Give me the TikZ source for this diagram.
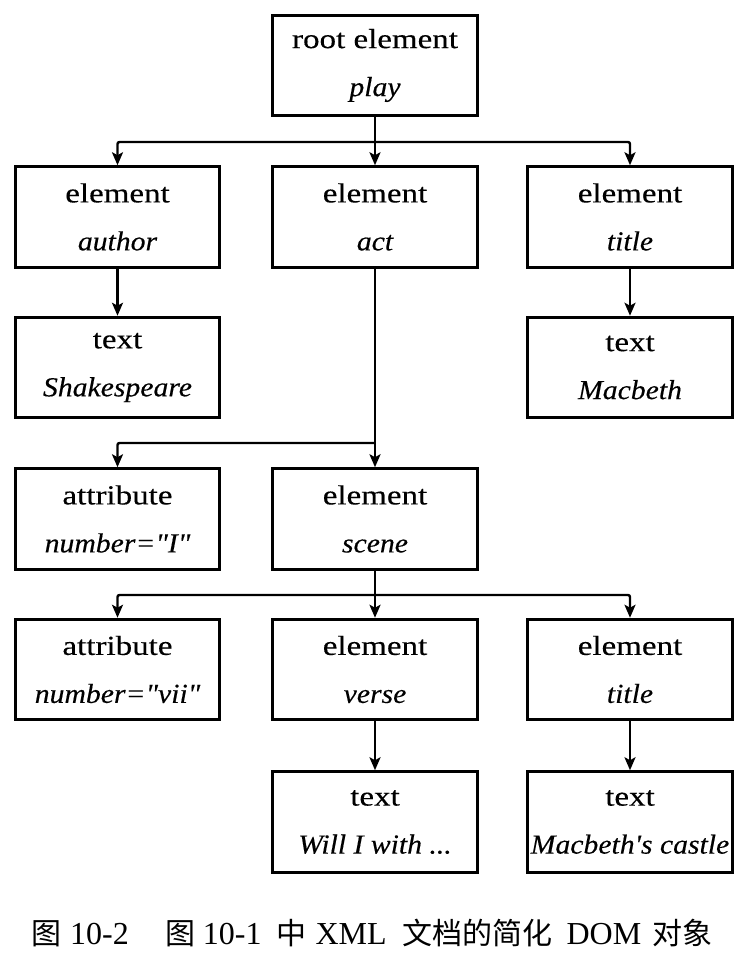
\documentclass[tikz,border=0pt]{standalone}
\usepackage{fontspec}
\setmainfont{Liberation Serif}
\newfontfamily\upfont{Liberation Serif}[FakeStretch=1.2,FakeBold=0.3]
\newfontfamily\itfont{Liberation Serif Italic}[FakeStretch=1.08,FakeBold=0.3]
\newfontfamily\cjk{Noto Sans CJK SC}
\usetikzlibrary{arrows.meta}
\newcommand{\nm}[1]{{\itfont #1}}
\newcommand{\zh}[1]{{\cjk\fontsize{30}{30}\selectfont #1}}
\tikzset{
  box/.style={draw, line width=3pt, minimum width=204.5pt, minimum height=100.5pt,
    inner sep=0pt, align=center, font=\upfont\fontsize{27.5}{48}\selectfont},
  conn/.style={line width=2.4pt, rounded corners=2pt,
    -{Stealth[length=13pt,width=11pt,inset=3pt]}},
  capt/.style={inner sep=0pt, anchor=base west, font=\fontsize{32}{32}\selectfont}
}
\begin{document}
\begin{tikzpicture}[x=1pt,y=-1pt]
\useasboundingbox (0,0) rectangle (751,956);
% rows
\node[box] (root)  at (375,65.5) {root element\\\nm{play}};
\node[box] (author) at (117.5,217) {element\\\nm{author}};
\node[box] (act)    at (375,217) {element\\\nm{act}};
\node[box] (title1) at (630,217) {element\\\nm{title}};
\node[box] (shake)  at (117.5,367.5) {text\\\nm{Shakespeare}};
\node[box] (macb)   at (630,367.5) {text\\\nm{Macbeth}};
\node[box] (attr1)  at (117.5,519) {attribute\\\nm{number="I"}};
\node[box] (scene)  at (375,519) {element\\\nm{scene}};
\node[box] (attr2)  at (117.5,669.5) {attribute\\\nm{number="vii"}};
\node[box] (verse)  at (375,669.5) {element\\\nm{verse}};
\node[box] (title2) at (630,669.5) {element\\\nm{title}};
\node[box] (will)   at (375,822) {text\\\nm{Will I with ...}};
\node[box] (castle) at (630,822) {text\\\nm{Macbeth's castle}};
% bus coordinates
\coordinate (bus1) at (375,142);
\coordinate (bus2) at (375,443);
\coordinate (bus3) at (375,595);
% connectors
\draw[conn] (root.south) -- (act.north);
\draw[conn] (bus1) -| (author.north);
\draw[conn] (bus1) -| (title1.north);
\draw[conn] (author.south) -- (shake.north);
\draw[conn] (title1.south) -- (macb.north);
\draw[conn] (act.south) -- (scene.north);
\draw[conn] (bus2) -| (attr1.north);
\draw[conn] (scene.south) -- (verse.north);
\draw[conn] (bus3) -| (attr2.north);
\draw[conn] (bus3) -| (title2.north);
\draw[conn] (verse.south) -- (will.north);
\draw[conn] (title2.south) -- (castle.north);
% caption
\node[capt] (cap) at (31,944) {\zh{图}\hspace{9pt}10-2\hspace{37pt}\zh{图}\hspace{7pt}10-1\hspace{15pt}\zh{中}\hspace{9pt}XML\hspace{16pt}\zh{文档的简化}\hspace{14pt}DOM\hspace{11pt}\zh{对象}};
\end{tikzpicture}
\end{document}
